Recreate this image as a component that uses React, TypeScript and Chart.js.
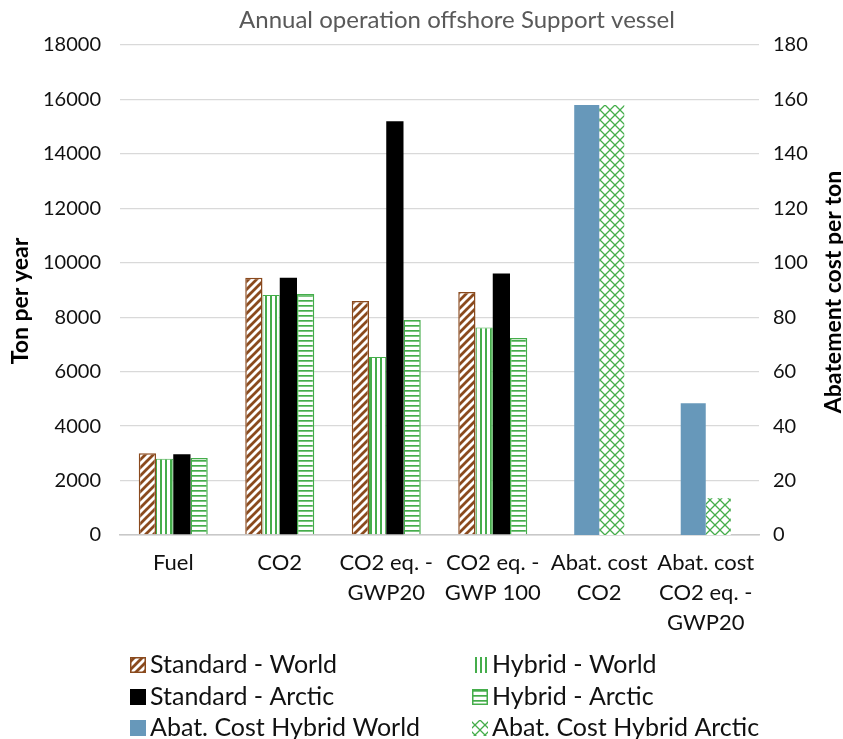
import React, { useEffect, useRef } from 'react';
import { Chart, registerables } from 'chart.js';

Chart.register(...registerables);

// ---- data ----
const categories: string[][] = [
  ['Fuel'],
  ['CO2'],
  ['CO2 eq. -', 'GWP20'],
  ['CO2 eq. -', 'GWP 100'],
  ['Abat. cost', 'CO2'],
  ['Abat. cost', 'CO2 eq. -', 'GWP20'],
];
const standardWorld = [3000, 9450, 8600, 8930, null, null];
const hybridWorld = [2800, 8820, 6540, 7620, null, null];
const standardArctic = [2970, 9450, 15200, 9610, null, null];
const hybridArctic = [2830, 8850, 7900, 7240, null, null];
const abatHybridWorld = [null, null, null, null, 158, 48.4];
const abatHybridArctic = [null, null, null, null, 158, 13.5];

const seriesLabels = [
  'Standard - World',
  'Hybrid - World',
  'Standard - Arctic',
  'Hybrid - Arctic',
  'Abat. Cost Hybrid World',
  'Abat. Cost Hybrid Arctic',
];

const chartTitle = 'Annual operation offshore Support vessel';
const leftAxisTitle = 'Ton per year';
const rightAxisTitle = 'Abatement cost per ton';
const leftMax = 18000;
const leftStep = 2000;
const rightMax = 180;
const rightStep = 20;

// ---- styles ----
const BROWN = '#8a4a1e';
const GREEN = '#45ad4b';
const BLUE = '#6798ba';
const FONT = 'Lato';

function makePattern(kind: string): CanvasPattern {
  const c = document.createElement('canvas');
  const g = c.getContext('2d') as CanvasRenderingContext2D;
  if (kind === 'diag') {
    const s = 8;
    c.width = s;
    c.height = s;
    g.fillStyle = '#fff';
    g.fillRect(0, 0, s, s);
    g.strokeStyle = BROWN;
    g.lineWidth = 2.8;
    g.beginPath();
    g.moveTo(-2, s + 2);
    g.lineTo(s + 2, -2);
    g.moveTo(-2, 2);
    g.lineTo(2, -2);
    g.moveTo(s - 2, s + 2);
    g.lineTo(s + 2, s - 2);
    g.stroke();
  } else if (kind === 'vert') {
    c.width = 5;
    c.height = 5;
    g.fillStyle = '#fff';
    g.fillRect(0, 0, 5, 5);
    g.fillStyle = GREEN;
    g.fillRect(0, 0, 2, 5);
  } else if (kind === 'horiz') {
    c.width = 5;
    c.height = 5;
    g.fillStyle = '#fff';
    g.fillRect(0, 0, 5, 5);
    g.fillStyle = GREEN;
    g.fillRect(0, 0, 5, 1.7);
  } else {
    const s = 10;
    c.width = s;
    c.height = s;
    g.fillStyle = '#fff';
    g.fillRect(0, 0, s, s);
    g.strokeStyle = GREEN;
    g.lineWidth = 1.3;
    g.beginPath();
    g.moveTo(0, 0);
    g.lineTo(s, s);
    g.moveTo(s, 0);
    g.lineTo(0, s);
    g.stroke();
    g.fillStyle = GREEN;
    g.fillRect(s / 2 - 1, s / 2 - 1, 2, 2);
  }
  return g.createPattern(c, 'repeat') as CanvasPattern;
}

export default function App() {
  const ref = useRef<HTMLCanvasElement | null>(null);

  useEffect(() => {
    if (!ref.current) return;
    Chart.defaults.font.family = FONT;

    const patSW = makePattern('diag');
    const patHW = makePattern('vert');
    const patHA = makePattern('horiz');
    const patX = makePattern('cross');

    const legendBorder = [true, false, false, true, false, false];

    const decorPlugin = {
      id: 'decor',
      afterDraw(chart: any) {
        const ctx: CanvasRenderingContext2D = chart.ctx;
        ctx.save();
        // chart title
        ctx.fillStyle = '#595959';
        ctx.font = `24px ${FONT}`;
        ctx.textAlign = 'center';
        ctx.textBaseline = 'middle';
        ctx.fillText(chartTitle, 457, 20);
        // axis titles, both reading bottom to top
        ctx.fillStyle = '#000';
        ctx.font = `bold 23px ${FONT}`;
        ctx.save();
        ctx.translate(21, 301);
        ctx.rotate(-Math.PI / 2);
        ctx.fillText(leftAxisTitle, 0, 0);
        ctx.restore();
        ctx.save();
        ctx.translate(834, 292);
        ctx.rotate(-Math.PI / 2);
        ctx.fillText(rightAxisTitle, 0, 0);
        ctx.restore();
        // legend
        const cols = [130, 472];
        const rows = [665, 697, 728];
        const box = 16;
        chart.data.datasets.forEach((ds: any, i: number) => {
          const x = cols[i % 2];
          const y = rows[Math.floor(i / 2)];
          ctx.fillStyle = ds.backgroundColor;
          ctx.fillRect(x, y - box / 2, box, box);
          if (legendBorder[i]) {
            ctx.strokeStyle = ds.borderColor;
            ctx.lineWidth = 1.5;
            ctx.strokeRect(x + 0.75, y - box / 2 + 0.75, box - 1.5, box - 1.5);
          }
          ctx.fillStyle = '#111';
          ctx.font = `25px ${FONT}`;
          ctx.textAlign = 'left';
          ctx.textBaseline = 'middle';
          ctx.fillText(ds.label, x + 20, y);
        });
        ctx.restore();
      },
    };

    const primaryPct = 0.648;
    const secondaryPct = 0.47;

    const chart = new Chart(ref.current, {
      type: 'bar',
      data: {
        labels: categories,
        datasets: [
          { label: seriesLabels[0], data: standardWorld, backgroundColor: patSW, borderColor: BROWN, borderWidth: 1.5, yAxisID: 'y', categoryPercentage: primaryPct, barPercentage: 1 },
          { label: seriesLabels[1], data: hybridWorld, backgroundColor: patHW, borderColor: GREEN, borderWidth: 1, yAxisID: 'y', categoryPercentage: primaryPct, barPercentage: 1 },
          { label: seriesLabels[2], data: standardArctic, backgroundColor: '#000', borderColor: '#000', borderWidth: 0, yAxisID: 'y', categoryPercentage: primaryPct, barPercentage: 1 },
          { label: seriesLabels[3], data: hybridArctic, backgroundColor: patHA, borderColor: GREEN, borderWidth: 1.5, yAxisID: 'y', categoryPercentage: primaryPct, barPercentage: 1 },
          { label: seriesLabels[4], data: abatHybridWorld, backgroundColor: BLUE, borderColor: BLUE, borderWidth: 0, yAxisID: 'y2', categoryPercentage: secondaryPct, barPercentage: 1 },
          { label: seriesLabels[5], data: abatHybridArctic, backgroundColor: patX, borderColor: GREEN, borderWidth: 0, yAxisID: 'y2', categoryPercentage: secondaryPct, barPercentage: 1 },
        ] as any,
      },
      options: {
        responsive: false,
        animation: false,
        skipNull: true,
        layout: { padding: { top: 45, left: 0, right: 0, bottom: 0 } },
        plugins: {
          legend: { display: false },
          title: { display: false },
          tooltip: { enabled: false },
        },
        scales: {
          x: {
            grid: { display: false, drawTicks: false },
            border: { display: true, color: '#c8c8c8', width: 1.5 },
            ticks: {
              color: '#111',
              font: { family: FONT, size: 22, lineHeight: 30 / 22 },
              padding: 13,
              maxRotation: 0,
              autoSkip: false,
            },
            afterFit: (s: any) => { s.height = 204; },
          },
          y: {
            position: 'left',
            min: 0,
            max: leftMax,
            grid: { color: '#d9d9d9', lineWidth: 1.3, drawTicks: false },
            border: { display: false },
            ticks: {
              stepSize: leftStep,
              padding: 19,
              color: '#111',
              font: { family: FONT, size: 20 },
              callback: (v: any) => String(v),
            },
            title: { display: false },
            afterFit: (s: any) => { s.width = 120; },
          },
          y2: {
            position: 'right',
            min: 0,
            max: rightMax,
            grid: { display: false, drawTicks: false },
            border: { display: false },
            ticks: {
              stepSize: rightStep,
              padding: 14,
              color: '#111',
              font: { family: FONT, size: 20 },
              callback: (v: any) => String(v),
            },
            afterFit: (s: any) => { s.width = 84; },
          },
        },
      } as any,
      plugins: [decorPlugin],
    });

    return () => chart.destroy();
  }, []);

  return (
    <div style={{ position: 'absolute', left: 0, top: 0, width: 843, height: 739, background: '#fff' }}>
      <canvas ref={ref} width={843} height={739} style={{ display: 'block' }} />
    </div>
  );
}
